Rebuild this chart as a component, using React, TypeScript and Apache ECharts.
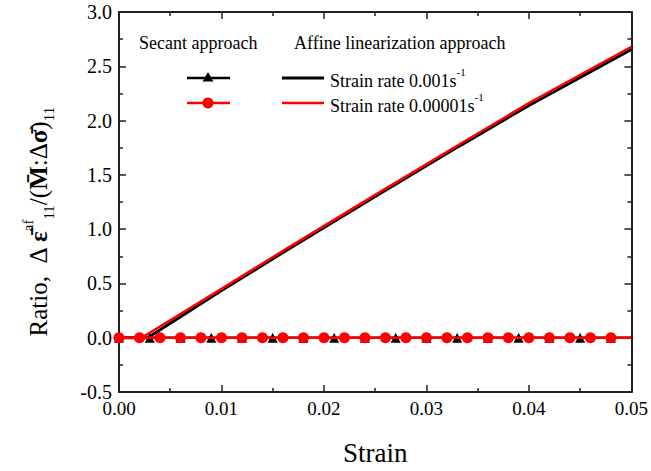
import React, { useEffect, useRef } from "react";
import * as echarts from "echarts";

// Secant approach (markers)
const secantTriX = [0, 0.003, 0.006, 0.009, 0.012, 0.015, 0.018, 0.021, 0.024, 0.027, 0.03, 0.033, 0.036, 0.039, 0.042, 0.045, 0.048, 0.05];
const secantTriY = [0, 0, 0, 0, 0, 0, 0, 0, 0, 0, 0, 0, 0, 0, 0, 0, 0, 0];
const secantCircX = [0, 0.002, 0.004, 0.006, 0.008, 0.01, 0.012, 0.014, 0.016, 0.018, 0.02, 0.022, 0.024, 0.026, 0.028, 0.03, 0.032, 0.034, 0.036, 0.038, 0.04, 0.042, 0.044, 0.046, 0.048, 0.05];
const secantCircY = [0, 0, 0, 0, 0, 0, 0, 0, 0, 0, 0, 0, 0, 0, 0, 0, 0, 0, 0, 0, 0, 0, 0, 0, 0, 0];

// Affine linearization approach
const affBlackX = [0, 0.0028, 0.01, 0.0166, 0.025, 0.0332, 0.04, 0.05];
const affBlackY = [0, 0, 0.435, 0.82, 1.3, 1.765, 2.14, 2.655];
const affRedX = [0, 0.0022, 0.01, 0.0166, 0.025, 0.0332, 0.04, 0.05];
const affRedY = [0, 0, 0.45, 0.835, 1.315, 1.78, 2.16, 2.68];

const FAM = "Times New Roman, Liberation Serif, serif";
const FONT = "'Liberation Serif', serif";

function pairs(xs: number[], ys: number[], lastNoSymbol = false) {
  return xs.map((x, i) => {
    if (lastNoSymbol && i === xs.length - 1) return { value: [x, ys[i]], symbol: "none" };
    return { value: [x, ys[i]] };
  });
}

export default function App() {
  const ref = useRef<HTMLDivElement>(null);
  useEffect(() => {
    if (!ref.current) return;
    const chart = echarts.init(ref.current, null, { renderer: "svg" });
    const axisLine = { show: true, onZero: false, lineStyle: { color: "#222", width: 2 } };
    const tick = { show: true, inside: true, length: 7, lineStyle: { color: "#222", width: 1.5 } };
    const minor = { show: true, splitNumber: 2, length: 4, lineStyle: { color: "#222", width: 1.5 } };
    chart.setOption({
      animation: false,
      backgroundColor: "#fff",
      textStyle: { fontFamily: FAM },
      grid: { left: 119, right: 18, top: 12, bottom: 77 },
      xAxis: [
        {
          type: "value", min: 0, max: 0.05, interval: 0.01,
          axisLine, axisTick: tick, minorTick: minor, splitLine: { show: false },
          axisLabel: { color: "#000", fontFamily: FAM, fontSize: 19, margin: 7, formatter: (v: number) => v.toFixed(2) },
          name: "Strain", nameLocation: "middle", nameGap: 47,
          nameTextStyle: { color: "#000", fontFamily: FAM, fontSize: 27 },
        },
        {
          type: "value", position: "top", min: 0, max: 0.05, interval: 0.01,
          axisLine, axisTick: tick, minorTick: minor, splitLine: { show: false },
          axisLabel: { show: false },
        },
      ],
      yAxis: [
        {
          type: "value", min: -0.5, max: 3, interval: 0.5,
          axisLine, axisTick: tick, minorTick: minor, splitLine: { show: false },
          axisLabel: { color: "#000", fontFamily: FAM, fontSize: 20, margin: 7, formatter: (v: number) => v.toFixed(1) },
        },
        {
          type: "value", position: "right", min: -0.5, max: 3, interval: 0.5,
          axisLine, axisTick: tick, minorTick: minor, splitLine: { show: false },
          axisLabel: { show: false },
        },
      ],
      series: [
        {
          type: "line", data: pairs(secantTriX, secantTriY, true), symbol: "triangle", symbolSize: 10,
          showAllSymbol: true, lineStyle: { color: "#000", width: 2.5 }, itemStyle: { color: "#000" }, z: 2,
        },
        {
          type: "line", data: pairs(affBlackX, affBlackY), symbol: "none",
          lineStyle: { color: "#000", width: 3 }, z: 3,
        },
        {
          type: "line", data: pairs(affRedX, affRedY), symbol: "none",
          lineStyle: { color: "#ff0000", width: 2.5 }, z: 4,
        },
        {
          type: "line", data: pairs(secantCircX, secantCircY, true), symbol: "circle", symbolSize: 11,
          showAllSymbol: true, lineStyle: { color: "#ff0000", width: 2.5 }, itemStyle: { color: "#ff0000" }, z: 5,
        },
      ],
      graphic: [
        { type: "text", x: 139, y: 43, style: { text: "Secant approach", font: `18px ${FONT}`, fill: "#000", verticalAlign: "middle" } },
        { type: "text", x: 294, y: 43, style: { text: "Affine linearization approach", font: `18px ${FONT}`, fill: "#000", verticalAlign: "middle" } },
        { type: "line", shape: { x1: 187, y1: 78, x2: 230, y2: 78 }, style: { stroke: "#000", lineWidth: 2.5 } },
        { type: "polygon", shape: { points: [[208, 72], [202.5, 81.5], [213.5, 81.5]] }, style: { fill: "#000" } },
        { type: "line", shape: { x1: 187, y1: 103, x2: 230, y2: 103 }, style: { stroke: "#ff0000", lineWidth: 2.5 } },
        { type: "circle", shape: { cx: 208, cy: 103, r: 5.5 }, style: { fill: "#ff0000" } },
        { type: "line", shape: { x1: 282, y1: 78, x2: 324, y2: 78 }, style: { stroke: "#000", lineWidth: 3 } },
        { type: "line", shape: { x1: 282, y1: 103, x2: 324, y2: 103 }, style: { stroke: "#ff0000", lineWidth: 2.5 } },
        {
          type: "text", x: 330, y: 78,
          style: {
            text: "{t|Strain rate 0.001s}{s|-1}", verticalAlign: "middle", fill: "#000",
            rich: { t: { font: `18px ${FONT}`, lineHeight: 24, verticalAlign: "bottom" }, s: { font: `11px ${FONT}`, verticalAlign: "top" } },
          },
        },
        {
          type: "text", x: 330, y: 103,
          style: {
            text: "{t|Strain rate 0.00001s}{s|-1}", verticalAlign: "middle", fill: "#000",
            rich: { t: { font: `18px ${FONT}`, lineHeight: 24, verticalAlign: "bottom" }, s: { font: `11px ${FONT}`, verticalAlign: "top" } },
          },
        },
        {
          type: "text", x: 38, y: 222, rotation: Math.PI / 2,
          style: {
            text: "{r|Ratio,  Δ }{b|ε\u0304}{sup|af}{sub|11}{r|/(}{b|M\u0304}{r|:Δ}{b|σ\u0304}{r|)}{sub|11}",
            align: "center", verticalAlign: "middle", fill: "#000",
            rich: {
              r: { font: `25px ${FONT}`, lineHeight: 36 },
              b: { font: `bold 25px ${FONT}`, lineHeight: 36 },
              sup: { font: `15px ${FONT}`, verticalAlign: "top" },
              sub: { font: `15px ${FONT}`, verticalAlign: "bottom" },
            },
          },
        },
      ],
    });
    return () => chart.dispose();
  }, []);
  return <div ref={ref} style={{ width: 651, height: 471, position: "absolute", left: 0, top: 0 }} />;
}
